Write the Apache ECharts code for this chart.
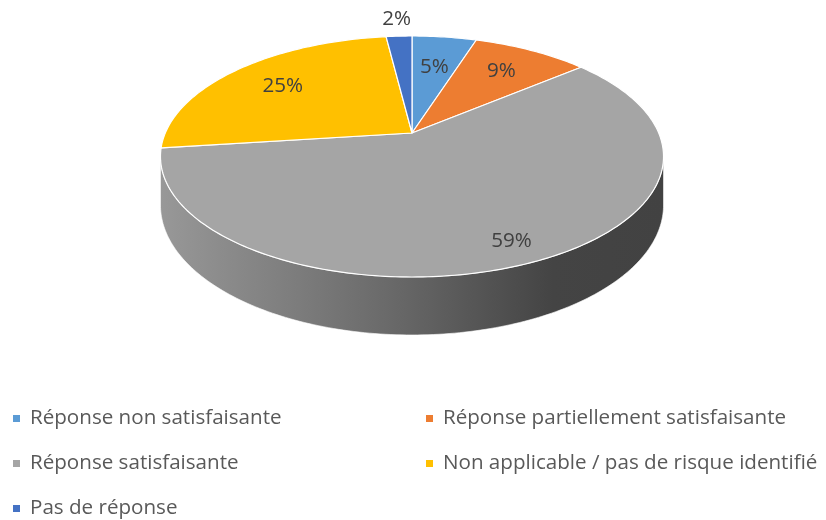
<!DOCTYPE html>
<html>
<head>
<meta charset="utf-8">
<script src="https://cdn.jsdelivr.net/npm/echarts@6/dist/echarts.min.js"></script>
<style>
  html, body { margin: 0; padding: 0; background: #fff; }
  #chart { width: 826px; height: 520px; }
</style>
</head>
<body>
<div id="chart"></div>
<script>
var categories = [
  'Réponse non satisfaisante',
  'Réponse partiellement satisfaisante',
  'Réponse satisfaisante',
  'Non applicable / pas de risque identifié',
  'Pas de réponse'
];
var values = [5, 9, 59, 25, 2];
var colors = ['#5B9BD5', '#ED7D31', '#A5A5A5', '#FFC000', '#4472C4'];
// how far out each label sits (1 = rim)
var labelRadius = [0.65, 0.72, 0.86, 0.72, 1.22];

// 3D disc geometry (perspective tilt)
var CX = 412, CY = 133, RX = 246.7, RY = 115.9, K = 0.195, DEPTH = 46.7;
var FONT = '"Open Sans", sans-serif';
var FONT_SIZE = 20.6;

var total = values.reduce(function (a, b) { return a + b; }, 0);
var starts = [];
var acc = 0;
values.forEach(function (v) { starts.push(acc / total * Math.PI * 2); acc += v; });

function project(theta, r, drop) {
  var u = r * Math.sin(theta), v = -r * Math.cos(theta);
  var w = 1 - K * v;
  return [CX + RX * u / w, CY + (RY * v + drop) / w];
}

function arc(a0, a1, r, drop) {
  var pts = [];
  var n = Math.max(2, Math.ceil((a1 - a0) / (Math.PI / 180)));
  for (var j = 0; j <= n; j++) pts.push(project(a0 + (a1 - a0) * j / n, r, drop));
  return pts;
}

function shade(hex, f) {
  var c = echarts.color.parse(hex);
  return 'rgb(' + [0, 1, 2].map(function (k) { return Math.round(c[k] * f); }).join(',') + ')';
}

var visFrom = Math.acos(-K), visTo = Math.PI * 2 - Math.acos(-K);

function sliceRenderer(i) {
  return function (params, api) {
    var a0 = starts[i], a1 = a0 + values[i] / total * Math.PI * 2;
    var children = [];

    // front wall
    var s = Math.max(a0, visFrom), e = Math.min(a1, visTo);
    if (e > s) {
      var top = arc(s, e, 1, 0);
      var bottom = arc(s, e, 1, DEPTH).reverse();
      children.push({
        type: 'polygon',
        z2: 1,
        shape: { points: top.concat(bottom) },
        style: {
          fill: {
            type: 'linear', global: true,
            x: CX - RX * 1.02, y: 0, x2: CX + RX * 1.02, y2: 0,
            colorStops: [
              { offset: 0, color: shade(colors[i], 0.92) },
              { offset: 0.45, color: shade(colors[i], 0.64) },
              { offset: 0.78, color: shade(colors[i], 0.41) },
              { offset: 1, color: shade(colors[i], 0.4) }
            ]
          },
          stroke: 'rgba(255,255,255,0.6)',
          lineWidth: 1
        }
      });
    }

    // top face
    children.push({
      type: 'polygon',
      z2: 10,
      shape: { points: [project(0, 0, 0)].concat(arc(a0, a1, 1, 0)) },
      style: { fill: colors[i], stroke: '#fff', lineWidth: 1.2, lineJoin: 'round' }
    });

    var lp = project((a0 + a1) / 2, labelRadius[i], 0);
    children.push({
      type: 'text',
      z2: 20,
      x: lp[0], y: lp[1],
      style: {
        text: Math.round(values[i] / total * 100) + '%',
        fill: '#404040',
        font: FONT_SIZE + 'px ' + FONT,
        align: 'center',
        verticalAlign: 'middle'
      }
    });

    return { type: 'group', children: children };
  };
}

var chart = echarts.init(document.getElementById('chart'));
chart.setOption({
  animation: false,
  legend: {
    data: categories,
    left: 13,
    top: 402,
    width: 826,
    padding: 0,
    orient: 'horizontal',
    icon: 'rect',
    itemWidth: 7,
    itemHeight: 7,
    itemGap: 12,
    selectedMode: false,
    textStyle: {
      color: '#595959',
      fontFamily: FONT,
      fontSize: FONT_SIZE,
      width: 384,
      lineHeight: 33,
      padding: [0, 0, 0, 5]
    }
  },
  series: categories.map(function (name, i) {
    return {
      type: 'custom',
      name: name,
      coordinateSystem: 'none',
      itemStyle: { color: colors[i] },
      renderItem: sliceRenderer(i),
      data: [values[i]]
    };
  })
});
</script>
</body>
</html>
